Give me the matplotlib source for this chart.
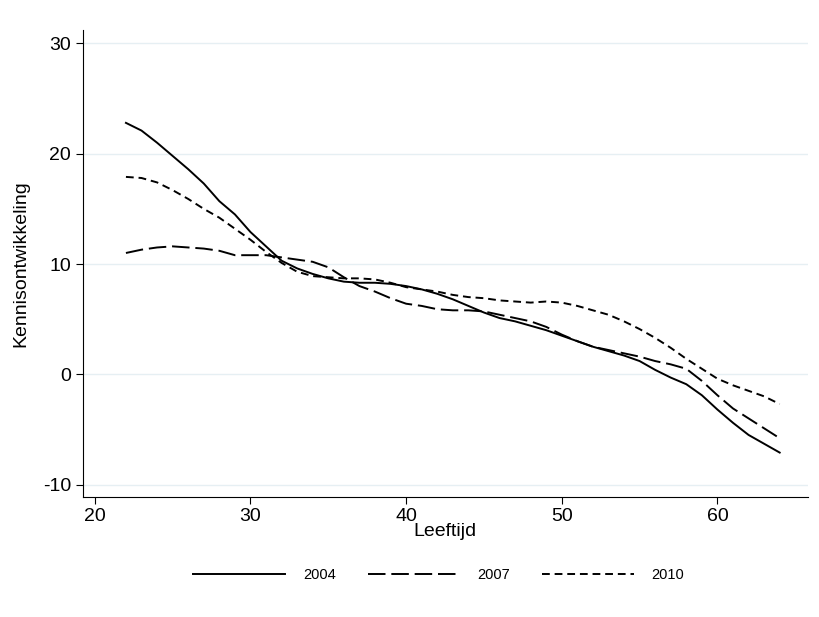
import matplotlib
matplotlib.use("Agg")
import matplotlib.pyplot as plt

plt.rcParams['font.family'] = ['Liberation Sans', 'DejaVu Sans']
plt.rcParams['axes.unicode_minus'] = False

ages = list(range(22, 65))
y2004 = [22.8, 22.1, 21.0, 19.8, 18.6, 17.3, 15.7, 14.5, 12.9, 11.6, 10.3, 9.6, 9.1, 8.7, 8.4,
         8.3, 8.3, 8.2, 8.0, 7.7, 7.3, 6.8, 6.2, 5.6, 5.1, 4.8, 4.4, 4.0, 3.5, 3.0, 2.5, 2.1,
         1.7, 1.2, 0.4, -0.3, -0.9, -1.9, -3.2, -4.4, -5.5, -6.3, -7.1]
y2007 = [11.0, 11.3, 11.5, 11.6, 11.5, 11.4, 11.2, 10.8, 10.8, 10.8, 10.6, 10.4, 10.2, 9.7, 8.8,
         8.0, 7.5, 6.9, 6.4, 6.2, 5.9, 5.8, 5.8, 5.7, 5.4, 5.1, 4.8, 4.3, 3.6, 3.0, 2.5, 2.2,
         1.9, 1.6, 1.2, 0.9, 0.5, -0.6, -1.9, -3.1, -4.0, -4.9, -5.8]
y2010 = [17.9, 17.8, 17.4, 16.7, 15.9, 15.0, 14.2, 13.2, 12.2, 11.1, 10.1, 9.3, 8.9, 8.8, 8.7,
         8.7, 8.6, 8.3, 7.9, 7.7, 7.5, 7.2, 7.0, 6.9, 6.7, 6.6, 6.5, 6.6, 6.5, 6.2, 5.8, 5.4,
         4.8, 4.1, 3.3, 2.4, 1.4, 0.5, -0.4, -1.0, -1.5, -2.0, -2.7]

fig = plt.figure(figsize=(8.2, 6.17), dpi=100)
ax = fig.add_axes([0.101, 0.195, 0.884, 0.756])

ax.plot(ages, y2004, color='black', lw=1.4, ls='-', label='2004')
ax.plot(ages, y2007, color='black', lw=1.4, dashes=(9, 3), label='2007')
ax.plot(ages, y2010, color='black', lw=1.4, dashes=(4, 2.5), label='2010')

ax.set_xlim(19.23, 65.8)
ax.set_ylim(-11.1, 31.2)
ax.set_xticks([20, 30, 40, 50, 60])
ax.set_yticks([-10, 0, 10, 20, 30])
ax.grid(axis='y', color='#e6eff3', lw=1)
ax.set_axisbelow(True)
for s in ['top', 'right']:
    ax.spines[s].set_visible(False)
ax.tick_params(labelsize=14, length=5)
ax.set_xlabel('Leeftijd', fontsize=14, labelpad=-2)
ax.set_ylabel('Kennisontwikkeling', fontsize=14, labelpad=10)

fig.legend(loc='lower center', bbox_to_anchor=(0.535, 0.035), ncol=3, frameon=False,
           fontsize=10.5, handlelength=6.3, handletextpad=1.2, columnspacing=2.2)

fig.savefig('out.png')
